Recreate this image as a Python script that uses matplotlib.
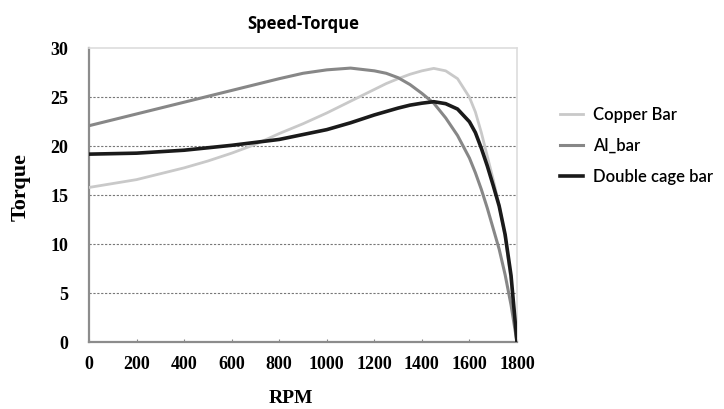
import matplotlib
matplotlib.use("Agg")
import matplotlib.pyplot as plt

rpm = [0, 100, 200, 300, 400, 500, 600, 700, 800, 900, 1000, 1100, 1200,
       1250, 1300, 1350, 1400, 1450, 1500, 1550, 1600, 1625, 1650, 1675,
       1700, 1725, 1750, 1775, 1800]
copper_bar = [15.8, 16.2, 16.6, 17.2, 17.8, 18.5, 19.3, 20.2, 21.3, 22.3, 23.4,
              24.6, 25.8, 26.4, 26.9, 27.35, 27.7, 27.95, 27.7, 26.9, 25.0, 23.5,
              21.4, 19.0, 16.6, 14.0, 10.8, 6.3, 0.0]
al_bar = [22.1, 22.7, 23.3, 23.9, 24.5, 25.1, 25.7, 26.3, 26.9, 27.45, 27.8,
          27.98, 27.7, 27.45, 27.0, 26.3, 25.4, 24.4, 22.9, 21.1, 18.8, 17.3,
          15.6, 13.7, 11.6, 9.5, 6.9, 3.8, 0.0]
double_cage = [19.2, 19.25, 19.3, 19.45, 19.6, 19.85, 20.1, 20.4, 20.7, 21.2, 21.7,
               22.4, 23.2, 23.55, 23.9, 24.2, 24.4, 24.55, 24.35, 23.8, 22.5, 21.4,
               19.8, 18.0, 16.0, 13.9, 11.0, 6.8, 0.0]
series_names = ["Copper Bar", "Al_bar", "Double cage bar"]
x_ticks = [0, 200, 400, 600, 800, 1000, 1200, 1400, 1600, 1800]
y_ticks = [0, 5, 10, 15, 20, 25, 30]

fig = plt.figure(figsize=(7.24, 4.09), dpi=100)
ax = fig.add_axes([89/724, 1-342.3/409, (517-89)/724, (342.3-48.3)/409])

ax.plot(rpm, copper_bar, color="#c9c9c9", lw=2.0, label=series_names[0], zorder=3)
ax.plot(rpm, al_bar, color="#878787", lw=2.2, label=series_names[1], zorder=3)
ax.plot(rpm, double_cage, color="#1a1a1a", lw=2.6, label=series_names[2], zorder=4)

ax.set_xlim(0, 1800)
ax.set_ylim(0, 30)
ax.set_xticks(x_ticks)
ax.set_yticks(y_ticks)
serif = {"family": "Liberation Serif", "weight": "bold"}
ax.set_xticklabels([str(v) for v in x_ticks], fontdict=dict(serif, size=13))
ax.set_yticklabels([str(v) for v in y_ticks], fontdict=dict(serif, size=13))
ax.tick_params(axis="x", direction="in", length=2, width=0.8, color="#888888", pad=10)
ax.tick_params(axis="y", length=0, pad=15)

for g in [5, 10, 15, 20, 25]:
    ax.axhline(g, color="#777777", lw=0.8, ls=(0, (2, 1.5)), zorder=1)

for s in ["left", "bottom"]:
    ax.spines[s].set_color("#8c8c8c")
    ax.spines[s].set_linewidth(1.6)
for s in ["top", "right"]:
    ax.spines[s].set_color("#dddddd")
    ax.spines[s].set_linewidth(1.2)

ax.set_xlabel("RPM", fontdict=dict(serif, size=14))
ax.xaxis.set_label_coords(0.472, -0.162)
ax.set_ylabel("Torque", fontdict=dict(serif, size=16))
ax.yaxis.set_label_coords(-0.136, 0.528)
ax.set_title("Speed-Torque", fontdict={"family": "Open Sans", "weight": "bold", "size": 12}, pad=14)

handles, labels = ax.get_legend_handles_labels()
leg = fig.legend(handles, labels, loc="upper left", bbox_to_anchor=(545/724, 1-92/409),
                 frameon=False, prop={"family": "Lato", "weight": "semibold", "size": 12},
                 handlelength=1.4, labelspacing=0.9, handletextpad=0.6)

fig.savefig("out.png", dpi=100)
